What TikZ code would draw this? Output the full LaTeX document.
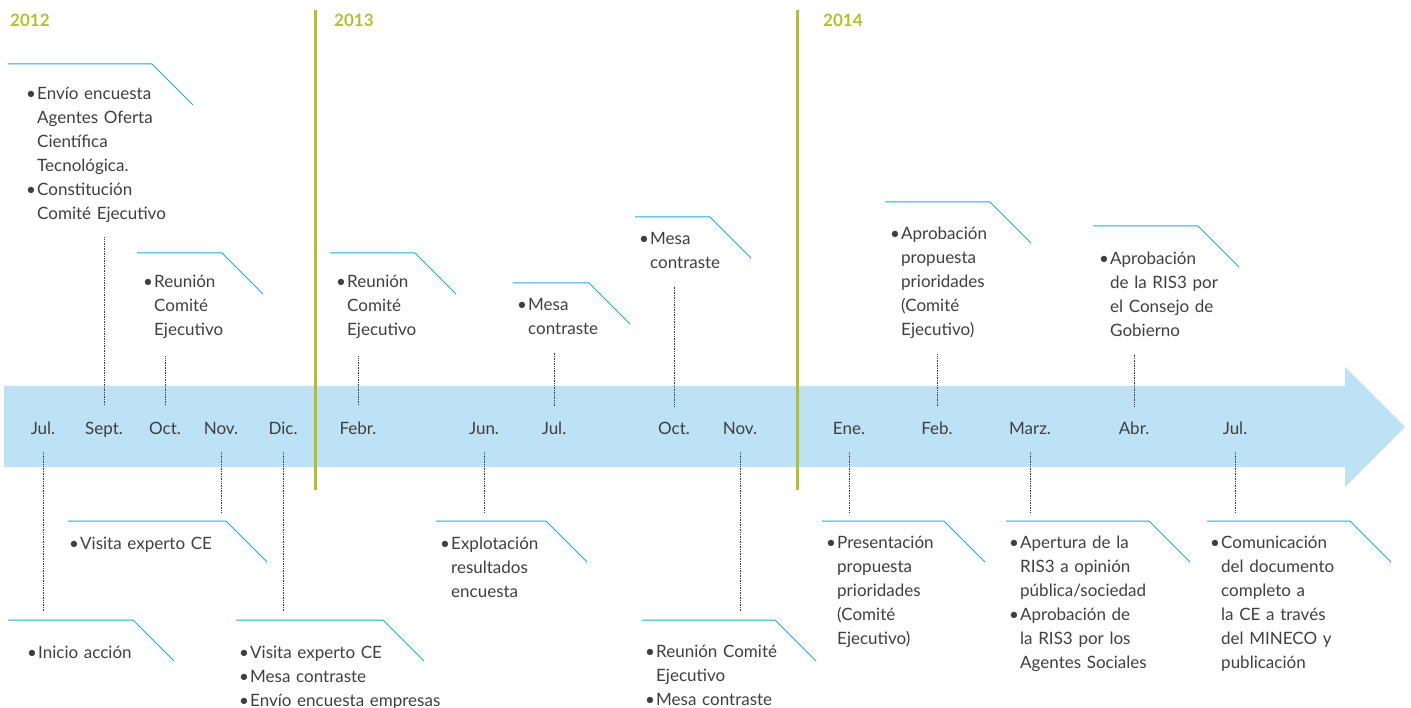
\documentclass[tikz,border=0pt]{standalone}
\usepackage{fontspec}
\setmainfont{Lato}
\usepackage{tikz}
\definecolor{band}{HTML}{BDE1F5}
\definecolor{tabcol}{HTML}{1BA9E1}
\definecolor{olive}{HTML}{B3BE33}
\definecolor{txt}{HTML}{3F3F3F}
\newcommand\itm{\par\leftskip=11pt\noindent\strut\llap{\makebox[11pt][l]{\textbullet}}}
\newcommand\itmend{\par}

\begin{document}
\begin{tikzpicture}[x=1pt,y=-1pt,
    month/.style={text=txt,font=\fontsize{17}{20}\selectfont,text height=12pt,text depth=0pt,
        minimum height=46pt,inner sep=0pt},
    note/.style={text=txt,font=\fontsize{17}{24}\selectfont,text width=240pt,align=left,inner sep=0pt,
        anchor=base west,yshift=23.8pt},
    year/.style={olive,font=\bfseries\fontsize{17}{20}\selectfont,anchor=west,inner sep=0pt},
    tab/.style={tabcol,line width=1pt},
    link/.style={txt,line width=0.7pt,densely dotted}]
    \useasboundingbox (0,0) rectangle (1411,708);

    % time band
    \fill[band] (4,386) -- (1345,386) -- (1345,367) -- (1405,427) -- (1345,487)
        -- (1345,467) -- (4,467) -- cycle;
    \draw[olive,line width=3pt] (315,10) -- (315,490);
    \draw[olive,line width=3pt] (797,10) -- (797,490);
    \node[year] (y12) at (10,20) {2012};
    \node[year] (y13) at (334,20) {2013};
    \node[year] (y14) at (823,20) {2014};

    % months
    \node[month] (jul12) at (43,429) {Jul.};
    \node[month] (sep12) at (104,429) {Sept.};
    \node[month] (oct12) at (165,429) {Oct.};
    \node[month] (nov12) at (221,429) {Nov.};
    \node[month] (dic12) at (283,429) {Dic.};
    \node[month] (feb13) at (358,429) {Febr.};
    \node[month] (jun13) at (484,429) {Jun.};
    \node[month] (jul13) at (554,429) {Jul.};
    \node[month] (oct13) at (674,429) {Oct.};
    \node[month] (nov13) at (740,429) {Nov.};
    \node[month] (ene14) at (849,429) {Ene.};
    \node[month] (feb14) at (937,429) {Feb.};
    \node[month] (mar14) at (1030,429) {Marz.};
    \node[month] (abr14) at (1134,429) {Abr.};
    \node[month] (jul14) at (1235,429) {Jul.};

    % notes above
    \coordinate (t1) at (8,64);
    \draw[tab] (t1) -- ++(144,0) -- ++(41,41);
    \node[note] (n1) at (26,99) {\itm Envío encuesta\\Agentes Oferta\\Científica\\Tecnológica.
        \itm Constitución\\Comité Ejecutivo\itmend};
    \coordinate (t2) at (137,253);
    \draw[tab] (t2) -- ++(85,0) -- ++(41,41);
    \node[note] (n2) at (143,287) {\itm Reunión\\Comité\\Ejecutivo\itmend};
    \coordinate (t3) at (330,253);
    \draw[tab] (t3) -- ++(85,0) -- ++(41,41);
    \node[note] (n3) at (336,287) {\itm Reunión\\Comité\\Ejecutivo\itmend};
    \coordinate (t4) at (513,283);
    \draw[tab] (t4) -- ++(76,0) -- ++(41,41);
    \node[note] (n4) at (517,310) {\itm Mesa\\contraste\itmend};
    \coordinate (t5) at (635,217);
    \draw[tab] (t5) -- ++(75,0) -- ++(41,41);
    \node[note] (n5) at (639,244) {\itm Mesa\\contraste\itmend};
    \coordinate (t6) at (885,202);
    \draw[tab] (t6) -- ++(105,0) -- ++(41,41);
    \node[note] (n6) at (890,239) {\itm Aprobación\\propuesta\\prioridades\\(Comité\\Ejecutivo)\itmend};
    \coordinate (t7) at (1093,226);
    \draw[tab] (t7) -- ++(105,0) -- ++(41,41);
    \node[note] (n7) at (1099,264) {\itm Aprobación\\de la RIS3 por\\el Consejo de\\Gobierno\itmend};

    % notes below
    \coordinate (t8) at (8,620);
    \draw[tab] (t8) -- ++(125,0) -- ++(41,41);
    \node[note] (n8) at (27,658) {\itm Inicio acción\itmend};
    \coordinate (t9) at (68,521);
    \draw[tab] (t9) -- ++(158,0) -- ++(41,41);
    \node[note] (n9) at (69,549) {\itm Visita experto CE\itmend};
    \coordinate (t10) at (236,620);
    \draw[tab] (t10) -- ++(147,0) -- ++(41,41);
    \node[note] (n10) at (239,658) {\itm Visita experto CE \itm Mesa contraste \itm Envío encuesta empresas\itmend};
    \coordinate (t11) at (436,521);
    \draw[tab] (t11) -- ++(110,0) -- ++(41,41);
    \node[note] (n11) at (440,549) {\itm Explotación\\resultados\\encuesta\itmend};
    \coordinate (t12) at (642,620);
    \draw[tab] (t12) -- ++(133,0) -- ++(41,41);
    \node[note] (n12) at (645,657) {\itm Reunión Comité\\Ejecutivo \itm Mesa contraste\itmend};
    \coordinate (t13) at (822,521);
    \draw[tab] (t13) -- ++(122,0) -- ++(41,41);
    \node[note] (n13) at (826,548) {\itm Presentación\\propuesta\\prioridades\\(Comité\\Ejecutivo)\itmend};
    \coordinate (t14) at (1006,521);
    \draw[tab] (t14) -- ++(143,0) -- ++(41,41);
    \node[note] (n14) at (1009,548) {\itm Apertura de la\\RIS3 a opinión\\pública/sociedad
        \itm Aprobación de\\la RIS3 por los\\Agentes Sociales\itmend};
    \coordinate (t15) at (1207,521);
    \draw[tab] (t15) -- ++(143,0) -- ++(41,41);
    \node[note] (n15) at (1210,548) {\itm Comunicación\\del documento\\completo a\\la CE a través\\del MINECO y\\publicación\itmend};

    % dotted links
    \draw[link,shorten <=15pt] (n1.south -| sep12) -- (sep12.north);
    \draw[link,shorten <=18pt] (n2.south -| oct12) -- (oct12.north);
    \draw[link,shorten <=18pt] (n3.south -| feb13) -- (feb13.north);
    \draw[link,shorten <=18pt] (n4.south -| jul13) -- (jul13.north);
    \draw[link,shorten <=18pt] (n5.south -| oct13) -- (oct13.north);
    \draw[link,shorten <=16pt] (n6.south -| feb14) -- (feb14.north);
    \draw[link,shorten <=18pt] (n7.south -| abr14) -- (abr14.north);
    \draw[link,shorten >=9pt] (jul12.south) -- (jul12.south |- t8);
    \draw[link,shorten >=9pt] (nov12.south) -- (nov12.south |- t9);
    \draw[link,shorten >=9pt] (dic12.south) -- (dic12.south |- t10);
    \draw[link,shorten >=9pt] (jun13.south) -- (jun13.south |- t11);
    \draw[link,shorten >=9pt] (nov13.south) -- (nov13.south |- t12);
    \draw[link,shorten >=9pt] (ene14.south) -- (ene14.south |- t13);
    \draw[link,shorten >=9pt] (mar14.south) -- (mar14.south |- t14);
    \draw[link,shorten >=9pt] (jul14.south) -- (jul14.south |- t15);
\end{tikzpicture}
\end{document}
